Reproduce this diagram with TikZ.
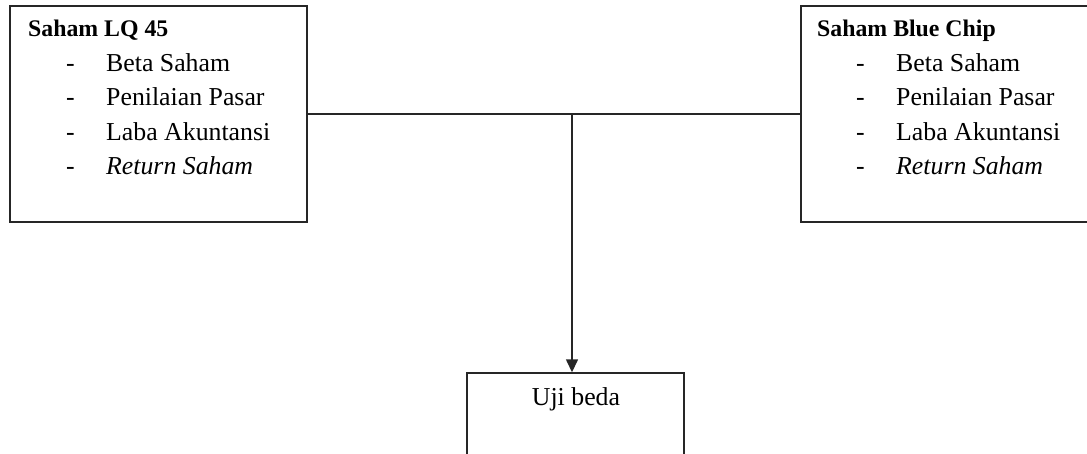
\documentclass[tikz,border=0pt]{standalone}
\usepackage{fontspec}
\setmainfont{Liberation Serif}
\usetikzlibrary{arrows.meta, positioning}

\begin{document}
\begin{tikzpicture}[
  x=1pt, y=-1pt,
  font=\fontsize{25.8}{30}\selectfont,
  box/.style={draw=black!85, line width=1.4pt, inner sep=0pt},
  txt/.style={anchor=base west, inner sep=0pt},
  head/.style={txt, font=\fontsize{23.8}{28}\selectfont\bfseries},
  >={Triangle[length=13pt, width=12pt]}]
\useasboundingbox (0,0) rectangle (1087,454);
% boxes
\node[box, minimum width=297pt, minimum height=216pt] (lq) at (158.5,114) {};
\node[box, minimum width=297pt, minimum height=216pt] (bc) at (949.5,114) {};
\node[box, minimum width=217pt, minimum height=110pt] (uji) at (575.5,428) {};
% texts
\node[head] (lqtitle) at (28,37) {Saham LQ 45};
\node[head] (bctitle) at (817,37) {Saham Blue Chip};
\foreach \t [count=\i] in {Beta Saham, Penilaian Pasar, Laba Akuntansi, \textit{Return Saham}} {
  \node[txt] (lqdash\i) at (66,37+34.5*\i) {-};
  \node[txt] (lqitem\i) at (106,37+34.5*\i) {\t};
  \node[txt] (bcdash\i) at (856,37+34.5*\i) {-};
  \node[txt] (bcitem\i) at (896,37+34.5*\i) {\t};
}
\node[anchor=base, inner sep=0pt] (ujitext) at (576,405) {Uji beda};
% connectors
\draw[black!85, line width=1.4pt] (lq) -- (bc);
\coordinate (join) at (572,114);
\draw[->, black!85, line width=1.4pt] (join) -- (join |- uji.north);
\end{tikzpicture}
\end{document}
